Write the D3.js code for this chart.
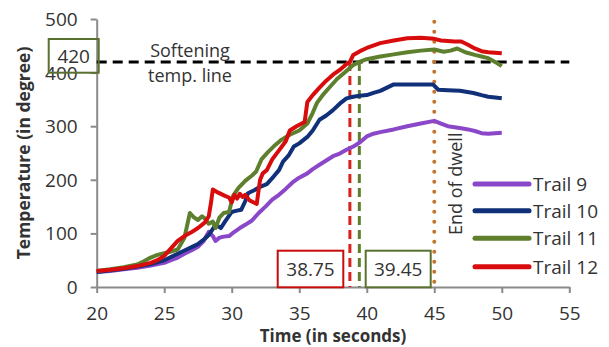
<!DOCTYPE html>
<html>
<head>
<meta charset="utf-8">
<script src="https://cdn.jsdelivr.net/npm/d3@7"></script>
<style>
  body { margin: 0; background: #fff; }
  text { font-family: 'Open Sans', sans-serif; fill: #333; }
</style>
</head>
<body>
<div class="chart"></div>
<script>
// Times (s) and temperatures for each trail
const t9 = [20, 21, 22, 23, 24, 25, 25.5, 26, 26.5, 27, 27.5, 27.9, 28.3, 28.6, 28.8, 29.1, 29.4, 29.8, 30.2, 30.6, 31, 31.5, 32, 32.5, 33, 33.5, 34, 34.5, 35, 35.6, 36, 36.5, 37, 37.5, 38, 38.5, 39, 39.5, 40, 40.5, 41, 42, 43, 44, 45, 45.5, 46, 47, 47.5, 48, 48.5, 49, 50]
const v9 = [28, 30, 33, 36, 40, 45, 50, 55, 62, 68, 75, 85, 103, 95, 86, 92, 94, 95, 103, 110, 116, 124, 138, 150, 163, 172, 183, 195, 204, 212, 220, 228, 236, 244, 249, 256, 262, 270, 281, 286, 289, 294, 300, 305, 310, 305, 300, 296, 294, 291, 287, 286, 288]

const t10 = [20, 21, 22, 23, 24, 25, 26, 26.5, 27, 27.5, 28, 28.3, 28.8, 29.2, 29.5, 30, 30.3, 30.7, 31, 31.2, 31.7, 32.1, 32.6, 33.1, 33.5, 33.8, 34.2, 34.6, 35, 35.6, 36, 36.5, 37, 37.5, 38, 38.5, 39, 39.5, 40, 40.5, 41, 41.5, 42, 43, 44, 44.9, 45.3, 46, 46.9, 47.9, 48.5, 49, 50]
const v10 = [28, 31, 34, 38, 43, 50, 62, 68, 74, 80, 90, 97, 116, 110, 122, 140, 142, 144, 160, 175, 181, 187, 192, 206, 218, 234, 245, 262, 268, 280, 292, 312, 320, 330, 342, 352, 355, 357, 358, 362, 366, 372, 378, 378, 378, 378, 368, 367, 366, 362, 358, 355, 352]

const t11 = [20, 21, 22, 23, 23.5, 24, 24.5, 25, 25.5, 26, 26.5, 26.9, 27.2, 27.5, 27.8, 28, 28.3, 28.6, 28.8, 29.1, 29.4, 29.8, 30.1, 30.5, 31, 31.5, 31.8, 32.2, 32.7, 33.1, 33.7, 34.3, 35, 35.6, 36, 36.3, 36.8, 37.3, 37.8, 38.3, 39, 39.45, 40, 41, 42, 43, 44, 45, 45.7, 46.2, 46.7, 47.3, 48, 48.5, 49, 49.5, 50]
const v11 = [30, 33, 37, 42, 48, 55, 60, 63, 66, 70, 92, 138, 130, 125, 132, 128, 118, 122, 110, 130, 138, 140, 170, 185, 198, 208, 215, 238, 252, 262, 275, 284, 292, 305, 325, 343, 360, 374, 388, 399, 414, 420, 425, 430, 434, 438, 441, 443, 439, 441, 445, 438, 433, 430, 427, 420, 412]

const t12 = [20, 21, 22, 23, 24, 24.5, 25, 25.5, 26, 26.5, 27, 27.5, 28, 28.3, 28.45, 28.6, 29, 29.5, 29.8, 30, 30.2, 30.4, 30.6, 30.8, 31, 31.3, 31.6, 31.85, 32.1, 32.3, 32.6, 33, 33.5, 34, 34.3, 34.8, 35.4, 35.6, 36, 36.5, 37, 37.5, 38, 38.5, 38.75, 39, 39.5, 40, 41, 42, 43, 44, 45, 45.5, 46, 46.5, 47, 47.5, 48, 48.5, 49, 50]
const v12 = [30, 32, 35, 39, 45, 50, 58, 72, 86, 95, 102, 110, 120, 132, 155, 182, 176, 170, 167, 158, 172, 165, 174, 168, 172, 162, 158, 155, 200, 212, 218, 238, 255, 272, 292, 300, 308, 345, 358, 372, 385, 396, 405, 416, 420, 433, 440, 446, 455, 460, 464, 465, 463, 460, 459, 458, 458, 452, 445, 440, 438, 436]

const trails = ['Trail 9', 'Trail 10', 'Trail 11', 'Trail 12']
const colors = ['#8a48c8', '#10307a', '#5e7f2e', '#d80c0c']

const xTicks = [20, 25, 30, 35, 40, 45, 50, 55]
const yTicks = [0, 100, 200, 300, 400, 500]

const softening = 420
const crossRed = 38.75
const crossGreen = 39.45
const dwellEnd = 45

const width = 609
const height = 347

const svg = d3.select('.chart').append('svg')
  .attr('width', width)
  .attr('height', height)

const x = d3.scaleLinear().domain([20, 55]).range([96.7, 569.3])
const y = d3.scaleLinear().domain([0, 500]).range([287, 19])

// Axes
const yAxis = svg.append('g')
  .attr('transform', `translate(${x(20)},0)`)
  .call(d3.axisLeft(y).tickValues(yTicks).tickSize(6).tickPadding(13).tickSizeOuter(0))
const xAxis = svg.append('g')
  .attr('transform', `translate(0,${y(0)})`)
  .call(d3.axisBottom(x).tickValues(xTicks).tickSize(6).tickPadding(14).tickSizeOuter(0))

svg.selectAll('.domain, .tick line').attr('stroke', '#8a8a8a').attr('stroke-width', 2)
svg.selectAll('.tick text').style('font-size', '19px').attr('fill', '#333')
  .style('font-family', 'Open Sans, sans-serif')
yAxis.selectAll('.tick text').attr('dy', '0.34em')

// Axis titles
svg.append('text')
  .attr('transform', `translate(30,${y(250)})rotate(-90)`)
  .attr('text-anchor', 'middle')
  .style('font-size', '17.5px').style('font-weight', 'bold')
  .text('Temperature (in degree)')
svg.append('text')
  .attr('x', 333).attr('y', 342)
  .attr('text-anchor', 'middle')
  .style('font-size', '17px').style('font-weight', 'bold')
  .text('Time (in seconds)')

// Reference lines
svg.append('line')
  .attr('x1', x(20)).attr('x2', x(55))
  .attr('y1', y(softening)).attr('y2', y(softening))
  .attr('stroke', '#000').attr('stroke-width', 3).attr('stroke-dasharray', '10,6')

svg.append('line')
  .attr('x1', x(crossRed)).attr('x2', x(crossRed))
  .attr('y1', y(softening)).attr('y2', y(0))
  .attr('stroke', '#d8221c').attr('stroke-width', 3).attr('stroke-dasharray', '9,5')

svg.append('line')
  .attr('x1', x(crossGreen)).attr('x2', x(crossGreen))
  .attr('y1', y(softening)).attr('y2', y(0))
  .attr('stroke', '#5e7f2e').attr('stroke-width', 3).attr('stroke-dasharray', '9,5')

svg.append('line')
  .attr('x1', x(dwellEnd)).attr('x2', x(dwellEnd))
  .attr('y1', y(495)).attr('y2', y(0))
  .attr('stroke', '#c4742c').attr('stroke-width', 4)
  .attr('stroke-linecap', 'round').attr('stroke-dasharray', '0,10')

// Series
const line = d3.line()
  .x(d => x(d[0]))
  .y(d => y(d[1]))

const series = [[t9, v9], [t10, v10], [t11, v11], [t12, v12]]
series.forEach((s, i) => {
  const pts = s[0].map((t, j) => [t, s[1][j]])
  svg.append('path')
    .datum(pts)
    .attr('d', line)
    .attr('fill', 'none')
    .attr('stroke', colors[i])
    .attr('stroke-width', 4)
    .attr('stroke-linejoin', 'round')
})

// Annotations
svg.append('text')
  .attr('x', 190).attr('y', 57)
  .attr('text-anchor', 'middle')
  .style('font-size', '18px')
  .text('Softening')
svg.append('text')
  .attr('x', 190).attr('y', 82)
  .attr('text-anchor', 'middle')
  .style('font-size', '18px')
  .text('temp. line')

svg.append('text')
  .attr('transform', 'translate(462,235)rotate(-90)')
  .style('font-size', '18px')
  .text('End of dwell')

const boxes = [
  { label: '420', x0: 48.7, x1: 98.7, y0: 39, y1: 72.7, color: '#5a7030', fill: 'none' },
  { label: String(crossRed), x0: 277.7, x1: 343.3, y0: 250.7, y1: 287.3, color: '#c80c0c', fill: '#fff' },
  { label: String(crossGreen), x0: 365.7, x1: 430.7, y0: 250.7, y1: 287.3, color: '#5a7030', fill: '#fff' }
]
boxes.forEach(b => {
  svg.append('rect')
    .attr('x', b.x0).attr('y', b.y0)
    .attr('width', b.x1 - b.x0).attr('height', b.y1 - b.y0)
    .attr('fill', b.fill).attr('stroke', b.color).attr('stroke-width', 2)
  svg.append('text')
    .attr('x', (b.x0 + b.x1) / 2).attr('y', (b.y0 + b.y1) / 2 + 7)
    .attr('text-anchor', 'middle')
    .style('font-size', '19px')
    .text(b.label)
})

// Legend
const legendY = [184, 210.7, 238.3, 266.7]
trails.forEach((name, i) => {
  svg.append('line')
    .attr('x1', 475).attr('x2', 529)
    .attr('y1', legendY[i]).attr('y2', legendY[i])
    .attr('stroke', colors[i]).attr('stroke-width', 5)
    .attr('stroke-linecap', 'round')
  svg.append('text')
    .attr('x', 533).attr('y', legendY[i] + 7)
    .style('font-size', '19px')
    .text(name)
})
</script>
</body>
</html>
